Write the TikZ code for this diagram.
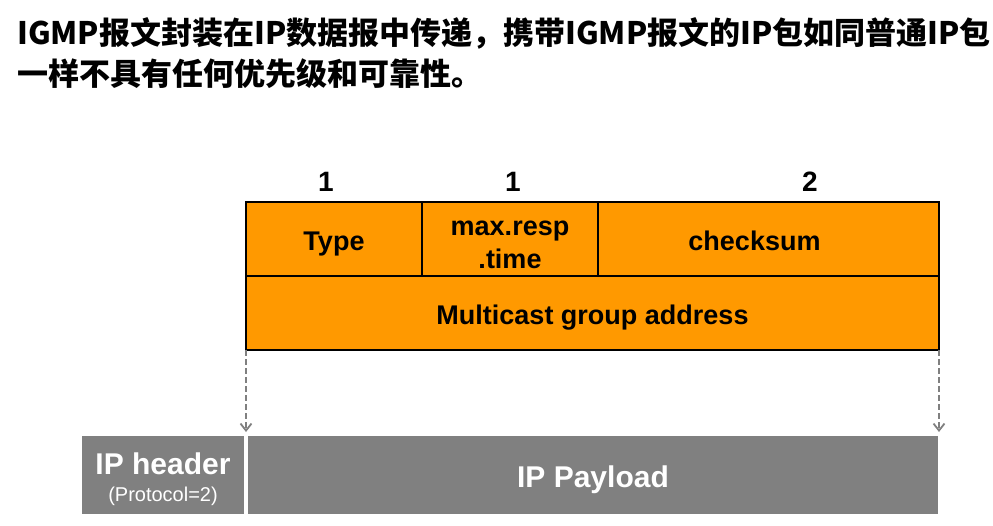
\documentclass[tikz,border=0pt]{standalone}
\usepackage{fontspec}
\setmainfont{Liberation Sans}
\newfontfamily\cjk{Noto Sans CJK SC}
\usetikzlibrary{positioning,arrows.meta}
\definecolor{igmporange}{HTML}{FF9900}
\definecolor{ipgrey}{HTML}{808080}
\tikzset{
  title/.style={anchor=west, inner sep=0pt, font=\cjk\bfseries\fontsize{31}{36}\selectfont},
  bytes/.style={font=\bfseries\fontsize{28}{30}\selectfont},
  field/.style={draw=black, line width=2.5pt, fill=igmporange, outer sep=0pt, inner sep=0pt,
    minimum height=74pt, text height=22pt, text depth=0pt, align=center,
    font=\bfseries\fontsize{27}{33}\selectfont},
  ipbox/.style={fill=ipgrey, text=white, outer sep=0pt, inner sep=0pt,
    minimum height=78pt, text height=24pt, text depth=0pt, align=center,
    font=\bfseries\fontsize{30}{33}\selectfont},
  flow/.style={draw=ipgrey, line width=1.8pt, dash pattern=on 6pt off 3pt,
    -{Straight Barb[length=7pt,width=11pt]}, shorten >=4pt}
}
\begin{document}
\begin{tikzpicture}[x=1pt,y=-1pt]
\useasboundingbox (0,0) rectangle (993,525);
\node[title] (title1) at (17,33) {IGMP报文封装在IP数据报中传递，携带IGMP报文的IP包如同普通IP包};
\node[title] (title2) at (17,74) {一样不具有任何优先级和可靠性。};

% IGMP message
\node[field, minimum width=176pt] (type) at (334,239) {Type};
\node[field, minimum width=176pt, text height=58pt, right=0pt of type] (maxresp) {max.resp\\.time};
\node[field, minimum width=341pt, right=0pt of maxresp] (checksum) {checksum\hspace{28pt}};
\node[field, minimum width=693pt, below=0pt of type.south west, anchor=north west] (group) {Multicast group address};

\node[bytes] (b1) at (326,182) {1};
\node[bytes] (b2) at (513,182) {1};
\node[bytes] (b3) at (810,182) {2};

% IP packet
\node[ipbox, minimum width=162pt, text height=52pt] (header) at (163,475) {IP header\\[-6pt]{\mdseries\fontsize{20}{22}\selectfont (Protocol=2)}};
\node[ipbox, minimum width=690pt, right=4pt of header] (payload) {IP Payload};

\draw[flow] (group.south west) -- (group.south west |- payload.north);
\draw[flow] (group.south east) -- (group.south east |- payload.north);
\end{tikzpicture}
\end{document}
